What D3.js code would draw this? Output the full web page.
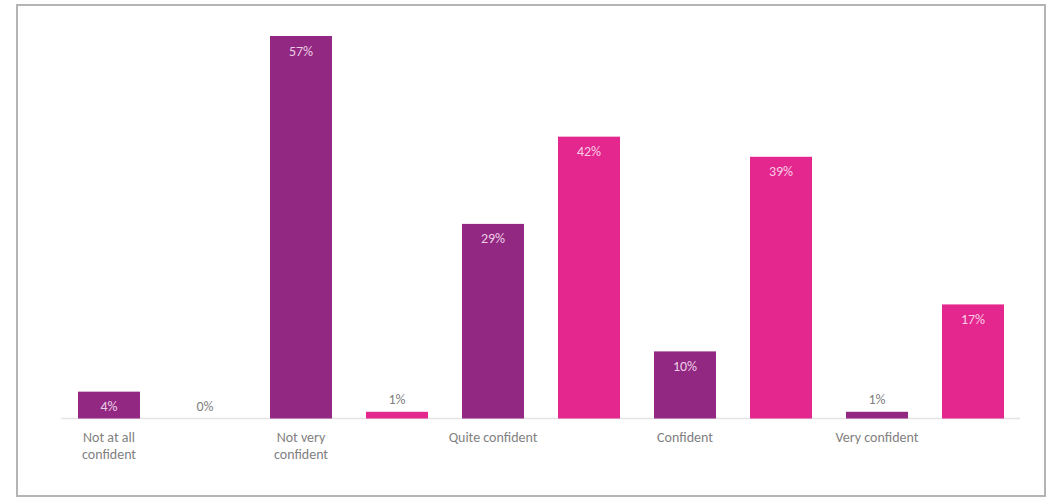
<!DOCTYPE html>
<html>
<head>
<meta charset="utf-8">
<script src="https://cdn.jsdelivr.net/npm/d3@7"></script>
<style>
  html, body { margin: 0; padding: 0; background: #fff; }
  svg { display: block; }
  text { font-family: Carlito, Calibri, Lato, "Liberation Sans", sans-serif; }
</style>
</head>
<body>
<svg id="chart" width="1051" height="497"></svg>
<script>
// Confidence levels and the share of respondents in each, for two groups
const categories = [["Not at all", "confident"], ["Not very", "confident"], ["Quite confident"], ["Confident"], ["Very confident"]];
const categoryKeys = ["Not at all confident", "Not very confident", "Quite confident", "Confident", "Very confident"];
const seriesNames = ["Group A", "Group B"];
const groupA = [4, 57, 29, 10, 1];
const groupB = [0, 1, 42, 39, 17];
const seriesColors = ["#922882", "#e3278e"];

const svg = d3.select("#chart");

// Outer frame
svg.append("rect")
  .attr("x", 17).attr("y", 5)
  .attr("width", 1028).attr("height", 491)
  .attr("fill", "#fff")
  .attr("stroke", "#b4b4b4")
  .attr("stroke-width", 2);

const plot = { left: 61, right: 1021, top: 36, bottom: 418.5 };

const x0 = d3.scaleBand()
  .domain(categoryKeys)
  .range([plot.left, plot.right])
  .paddingInner(0).paddingOuter(0);

const x1 = d3.scaleBand()
  .domain(seriesNames)
  .range([0, x0.bandwidth()])
  .paddingInner(34 / 96)
  .paddingOuter(17 / 96);

const y = d3.scaleLinear()
  .domain([0, 57])
  .range([plot.bottom, plot.top]);

const rows = categoryKeys.map((k, i) => ({
  key: k,
  label: categories[i],
  values: [groupA[i], groupB[i]]
}));

// Baseline
svg.append("line")
  .attr("x1", plot.left).attr("x2", plot.right - 1)
  .attr("y1", plot.bottom).attr("y2", plot.bottom)
  .attr("stroke", "#e4e4e4")
  .attr("stroke-width", 1.5);

const groups = svg.selectAll("g.cat")
  .data(rows)
  .join("g")
  .attr("class", "cat")
  .attr("transform", d => `translate(${x0(d.key)},0)`);

const bars = groups.selectAll("g.bar")
  .data(d => d.values.map((v, j) => ({ v, s: seriesNames[j], j })))
  .join("g")
  .attr("class", "bar");

bars.filter(d => d.v > 0).append("rect")
  .attr("x", d => x1(d.s))
  .attr("width", x1.bandwidth())
  .attr("y", d => y(d.v))
  .attr("height", d => plot.bottom - y(d.v))
  .attr("fill", d => seriesColors[d.j]);

// Value labels: inside the bar when it is tall enough, otherwise above it
bars.append("text")
  .attr("x", d => x1(d.s) + x1.bandwidth() / 2)
  .attr("y", d => {
    const h = plot.bottom - y(d.v);
    return h >= 24 ? y(d.v) + 19.5 : y(d.v) - 8;
  })
  .attr("text-anchor", "middle")
  .attr("font-size", 14)
  .attr("fill", d => (plot.bottom - y(d.v)) >= 24 ? "rgba(255,236,248,0.85)" : "#7f7f7f")
  .text(d => d.v + "%");

// Category labels, centred under the first bar of each group
const labels = groups.append("text")
  .attr("text-anchor", "middle")
  .attr("font-size", 14)
  .attr("fill", "#7f7f7f")
  .attr("transform", `translate(${x1(seriesNames[0]) + x1.bandwidth() / 2},442)`);

labels.selectAll("tspan")
  .data(d => d.label)
  .join("tspan")
  .attr("x", 0)
  .attr("dy", (d, i) => i === 0 ? 0 : 17)
  .text(d => d);
</script>
</body>
</html>
